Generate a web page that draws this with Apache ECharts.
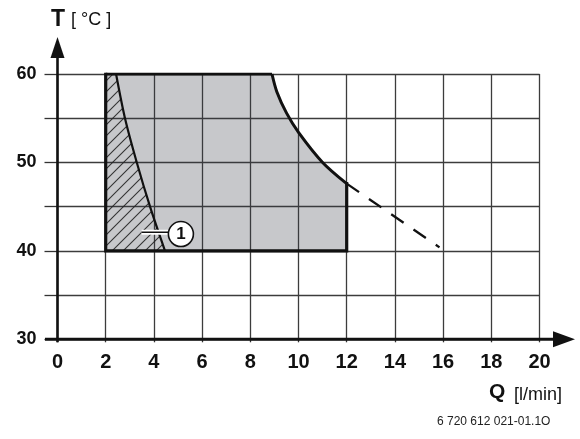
<!DOCTYPE html>
<html><head><meta charset="utf-8">
<script src="https://cdn.jsdelivr.net/npm/echarts@6/dist/echarts.min.js"></script>
<style>html,body{margin:0;padding:0;background:#fff}#c{width:580px;height:439px}</style>
</head><body><div id="c"></div>
<script>
// ---- data ----
const xTicks = [0,2,4,6,8,10,12,14,16,18,20];
const yTickLabels = [30,40,50,60];
// operating region: flat top edge and the curved upper boundary (Q l/min, T °C)
const topQ = [2, 8.9];
const topT = [60, 60];
const curveQ = [8.9, 9.1, 9.5, 10, 11, 12];
const curveT = [60, 58, 55.6, 53.4, 50, 47.6];
// rest of the region outline: right edge, bottom, left edge
const edgeQ = [12, 12, 2, 2];
const edgeT = [47.6, 40, 40, 60];
// hatched region (1): flat top and its right boundary
const hTopQ = [2, 2.43];
const hTopT = [60, 60];
const hCurveQ = [2.43, 2.8, 3.29, 3.84, 4.46];
const hCurveT = [60, 55, 50, 45, 40];
// dashed extension
const dashQ = [12, 15.85];
const dashT = [47.6, 40.4];
// callout
const leaderQ = [3.49, 4.6];
const leaderT = [42.1, 42.1];
const calloutQ = [5.12];
const calloutT = [41.9];
const calloutText = ['1'];

const FONT = '"Liberation Sans", Arial, Helvetica, sans-serif';
const pairs = (qs, ts) => qs.map((q, i) => [q, ts[i]]);

// hatch pattern
const pc = document.createElement('canvas');
pc.width = 11; pc.height = 11;
const g = pc.getContext('2d');
g.strokeStyle = 'rgba(35,35,35,0.9)';
g.lineWidth = 1.1;
g.beginPath();
g.moveTo(-2, 13); g.lineTo(13, -2);
g.moveTo(-13, 13); g.lineTo(2, -2);
g.moveTo(9, 13); g.lineTo(24, -2);
g.stroke();
const GRAY = 'rgba(55,58,68,0.28)';
const HATCH = { image: pc, repeat: 'repeat' };

const chart = echarts.init(document.getElementById('c'), null, { renderer: 'canvas' });
const option = {
  animation: false,
  backgroundColor: '#fff',
  grid: { left: 57.5, right: 40.5, top: 74, bottom: 99.7 },
  xAxis: {
    type: 'value', min: 0, max: 20, interval: 2,
    axisLine: { show: false },
    axisTick: { show: true, length: 3, lineStyle: { color: '#333', width: 1.3 } },
    splitLine: { show: true, lineStyle: { color: '#3c3c3c', width: 1.3 } },
    axisLabel: {
      color: '#111', fontSize: 20, fontWeight: 'bold', fontFamily: FONT, margin: 13,
      formatter: v => xTicks.includes(v) ? String(v) : ''
    }
  },
  yAxis: {
    type: 'value', min: 30, max: 60, interval: 5,
    axisLine: { show: false },
    axisTick: { show: true, length: 13, lineStyle: { color: '#333', width: 1.3 } },
    splitLine: { show: true, lineStyle: { color: '#3c3c3c', width: 1.3 } },
    axisLabel: {
      color: '#111', fontSize: 18, fontWeight: 'bold', fontFamily: FONT, margin: 21,
      formatter: v => yTickLabels.includes(v) ? String(v) : ''
    }
  },
  series: [
    // gray fill
    { type: 'line', data: pairs(topQ, topT), symbol: 'none', z: 2, silent: true,
      lineStyle: { width: 0, opacity: 0 }, areaStyle: { color: GRAY, origin: 40, opacity: 1 } },
    { type: 'line', data: pairs(curveQ, curveT), symbol: 'none', z: 2, silent: true, smooth: 0.3,
      lineStyle: { width: 0, opacity: 0 }, areaStyle: { color: GRAY, origin: 40, opacity: 1 } },
    // hatched fill
    { type: 'line', data: pairs(hTopQ, hTopT), symbol: 'none', z: 3, silent: true,
      lineStyle: { width: 0, opacity: 0 }, areaStyle: { color: HATCH, origin: 40, opacity: 1 } },
    { type: 'line', data: pairs(hCurveQ, hCurveT), symbol: 'none', z: 3, silent: true, smooth: 0.3,
      lineStyle: { width: 0, opacity: 0 }, areaStyle: { color: HATCH, origin: 40, opacity: 1 } },
    // hatched boundary
    { type: 'line', data: pairs(hCurveQ, hCurveT), symbol: 'none', z: 4, silent: true, smooth: 0.3,
      lineStyle: { color: '#111', width: 2.2 } },
    // region outline
    { type: 'line', data: pairs(topQ, topT), symbol: 'none', z: 5, silent: true,
      lineStyle: { color: '#111', width: 3.2 } },
    { type: 'line', data: pairs(curveQ, curveT), symbol: 'none', z: 5, silent: true, smooth: 0.3,
      lineStyle: { color: '#111', width: 3 } },
    { type: 'line', data: pairs(edgeQ, edgeT), symbol: 'none', z: 5, silent: true,
      lineStyle: { color: '#111', width: 3.2, join: 'miter', cap: 'square' } },
    // dashed extension
    { type: 'line', data: pairs(dashQ, dashT), symbol: 'none', z: 4, silent: true,
      lineStyle: { color: '#111', width: 2.3, type: [15, 12] } },
    // callout
    { type: 'line', data: pairs(leaderQ, leaderT), symbol: 'none', z: 6, silent: true,
      lineStyle: { color: '#fff', width: 5 } },
    { type: 'line', data: pairs(leaderQ, leaderT), symbol: 'none', z: 7, silent: true,
      lineStyle: { color: '#111', width: 1.5 } },
    { type: 'scatter', data: calloutQ.map((q, i) => [q, calloutT[i], calloutText[i]]), z: 8, silent: true,
      symbol: 'circle', symbolSize: 25,
      itemStyle: { color: '#fff', borderColor: '#111', borderWidth: 1.6, opacity: 1 },
      label: { show: true, position: 'inside', formatter: p => p.value[2], color: '#111',
        fontSize: 17, fontWeight: 'bold', fontFamily: FONT } }
  ]
};
chart.setOption(option);

const o = chart.convertToPixel({ gridIndex: 0 }, [0, 30]);
const ox = o[0], oy = o[1];
chart.setOption({
  graphic: [
    { type: 'line', shape: { x1: 45, y1: oy, x2: 556, y2: oy }, style: { stroke: '#111', lineWidth: 3 }, z: 10 },
    { type: 'polygon', shape: { points: [[553, oy - 8], [575, oy], [553, oy + 8]] }, style: { fill: '#111' }, z: 10 },
    { type: 'line', shape: { x1: ox, y1: oy + 3, x2: ox, y2: 56 }, style: { stroke: '#111', lineWidth: 2.6 }, z: 10 },
    { type: 'polygon', shape: { points: [[ox - 7, 58], [ox, 37], [ox + 7, 58]] }, style: { fill: '#111' }, z: 10 },
    { type: 'text', left: 51, top: 8, style: { text: 'T', fontSize: 23, fontWeight: 'bold', fontFamily: FONT, fill: '#111' }, z: 10 },
    { type: 'text', left: 71, top: 11, style: { text: '[ °C ]', fontSize: 18, fontFamily: FONT, fill: '#111' }, z: 10 },
    { type: 'text', left: 489, top: 382, style: { text: 'Q', fontSize: 21, fontWeight: 'bold', fontFamily: FONT, fill: '#111' }, z: 10 },
    { type: 'text', left: 514, top: 386, style: { text: '[l/min]', fontSize: 18, fontFamily: FONT, fill: '#111' }, z: 10 },
    { type: 'text', left: 437, top: 416, style: { text: '6 720 612 021-01.1O', fontSize: 12, fontFamily: FONT, fill: '#222' }, z: 10 }
  ]
});
</script></body></html>
